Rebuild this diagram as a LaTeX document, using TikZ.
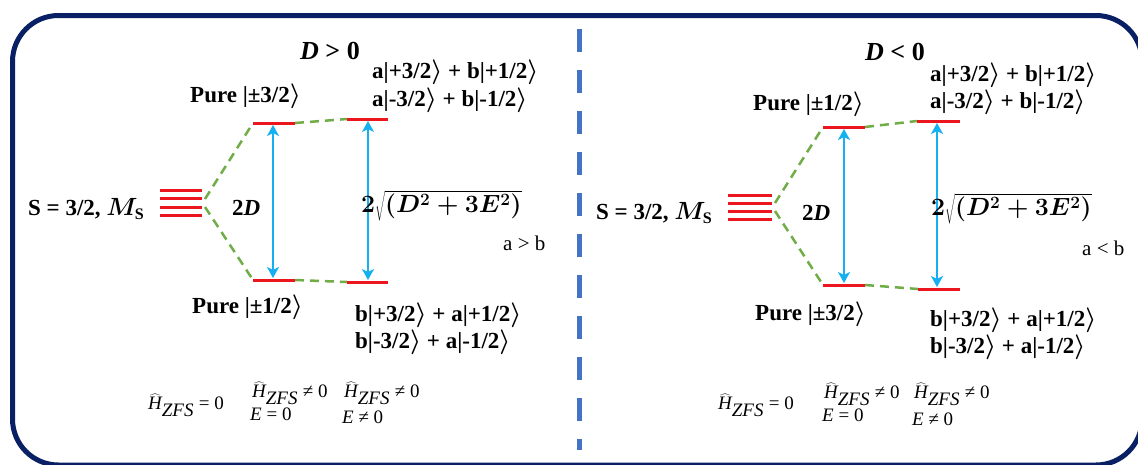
\documentclass[tikz,border=0pt]{standalone}
\usepackage{fontspec}
\setmainfont{Liberation Serif}
\usetikzlibrary{arrows.meta}
\definecolor{navy}{RGB}{10,32,100}
\definecolor{divblue}{RGB}{68,114,196}
\definecolor{lvlred}{RGB}{236,22,30}
\definecolor{dgreen}{RGB}{112,173,71}
\definecolor{tblue}{RGB}{20,176,240}
\newcommand{\HZ}{$\widehat{\textit{H}}_{\textit{ZFS}}$}
\begin{document}
\begin{tikzpicture}[x=1pt,y=-1pt,
  lvl/.style={draw=lvlred, line width=3pt},
  conn/.style={draw=dgreen, line width=2.5pt, dash pattern=on 9pt off 6pt},
  trans/.style={draw=tblue, line width=2.6pt, {Stealth[length=11pt,width=12pt,inset=3pt]}-{Stealth[length=11pt,width=12pt,inset=3pt]}},
  lab/.style={font=\fontsize{23}{26}\selectfont\bfseries\boldmath, inner sep=0pt},
  sqr/.style={font=\fontsize{24}{27}\selectfont\bfseries\boldmath, inner sep=0pt},
  title/.style={font=\fontsize{26}{29}\selectfont\bfseries, inner sep=0pt},
  plain/.style={font=\fontsize{21}{24}\selectfont, inner sep=0pt},
  hz/.style={font=\fontsize{19}{21}\selectfont, inner sep=0pt, anchor=west},
  divider/.style={draw=divblue, line width=5pt, dash pattern=on 23pt off 18pt}]
\useasboundingbox (0,0) rectangle (1138,464);
\fill[white] (0,0) rectangle (1138,464);
% frame
\draw[navy, line width=5pt, rounded corners=46pt] (12.5,15.5) rectangle (1142,465);
% divider
\coordinate (dtop) at (579,29);
\coordinate (dbot) at (579,450);
\draw[divider] (dtop) -- (dbot);

% ================= LEFT PANEL (D>0)
\node[title] (t1) at (330,51) {\textit{D} > 0};
% degenerate levels
\foreach \i/\y in {1/190,2/198.5,3/207,4/215.5}{
  \coordinate (da\i) at (160,\y);
  \coordinate (db\i) at (202,\y);
  \draw[lvl] (da\i) -- (db\i);
}
\coordinate (gu) at (205,199);
\coordinate (gl) at (205,207);
\coordinate (A1) at (253,123); \coordinate (A2) at (295,123);
\coordinate (B1) at (347,119); \coordinate (B2) at (388,119);
\coordinate (C1) at (253,280); \coordinate (C2) at (295,280);
\coordinate (E1) at (347,282); \coordinate (E2) at (388,282);
\draw[conn] (gu) -- (A1);
\draw[conn] (gl) -- (C1);
\draw[conn] (A2) -- (B1);
\draw[conn] (C2) -- (E1);
\draw[lvl] (A1) -- (A2);
\draw[lvl] (B1) -- (B2);
\draw[lvl] (C1) -- (C2);
\draw[lvl] (E1) -- (E2);
\coordinate (ar1t) at (273,125); \coordinate (ar1b) at (273,278);
\coordinate (ar2t) at (368,121); \coordinate (ar2b) at (368,280);
\draw[trans] (ar1t) -- (ar1b);
\draw[trans] (ar2t) -- (ar2b);

\node[lab, anchor=west] (pa) at (190,96) {Pure |±3/2$\rangle$};
\node[lab, anchor=west] (ma1) at (372,72) {a|+3/2$\rangle$ + b|+1/2$\rangle$};
\node[lab, anchor=west] (ma2) at (372,100) {a|-3/2$\rangle$ + b|-1/2$\rangle$};
\node[lab, anchor=west] (sa) at (28,209) {S = 3/2, $M_{\mathrm{S}}$};
\node[lab, anchor=west] (dd1) at (232,208) {2\textit{D}};
\node[sqr, anchor=west] (sq1) at (361,206) {$2\sqrt{(D^2+3E^2)}$};
\node[plain, anchor=west] (ab1) at (503,243) {a > b};
\node[lab, anchor=west] (pb) at (192,307) {Pure |±1/2$\rangle$};
\node[lab, anchor=west] (mb1) at (355,315) {b|+3/2$\rangle$ + a|+1/2$\rangle$};
\node[lab, anchor=west] (mb2) at (355,342) {b|-3/2$\rangle$ + a|-1/2$\rangle$};
\node[hz] (h1) at (148,405) {\HZ{} = 0};
\node[hz] (h2) at (252,393) {\HZ{} ≠ 0};
\node[hz] (h3) at (250,414) {\textit{E} = 0};
\node[hz] (h4) at (344,393) {\HZ{} ≠ 0};
\node[hz] (h5) at (342,417) {\textit{E} ≠ 0};

% ================= RIGHT PANEL (D<0)
\node[title] (t2) at (895,52) {\textit{D} < 0};
\foreach \i/\y in {1/195,2/203,3/211,4/219}{
  \coordinate (dc\i) at (728,\y);
  \coordinate (dd\i) at (772,\y);
  \draw[lvl] (dc\i) -- (dd\i);
}
\coordinate (hu) at (775,203);
\coordinate (hl) at (775,211);
\coordinate (F1) at (823,127); \coordinate (F2) at (865,127);
\coordinate (G1) at (917,121); \coordinate (G2) at (960,121);
\coordinate (H1) at (823,285); \coordinate (H2) at (865,285);
\coordinate (J1) at (918,289); \coordinate (J2) at (960,289);
\draw[conn] (hu) -- (F1);
\draw[conn] (hl) -- (H1);
\draw[conn] (F2) -- (G1);
\draw[conn] (H2) -- (J1);
\draw[lvl] (F1) -- (F2);
\draw[lvl] (G1) -- (G2);
\draw[lvl] (H1) -- (H2);
\draw[lvl] (J1) -- (J2);
\coordinate (ar3t) at (844,129); \coordinate (ar3b) at (844,283);
\coordinate (ar4t) at (937,123); \coordinate (ar4b) at (937,287);
\draw[trans] (ar3t) -- (ar3b);
\draw[trans] (ar4t) -- (ar4b);

\node[lab, anchor=west] (pc) at (753,104) {Pure |±1/2$\rangle$};
\node[lab, anchor=west] (mc1) at (930,75) {a|+3/2$\rangle$ + b|+1/2$\rangle$};
\node[lab, anchor=west] (mc2) at (930,102) {a|-3/2$\rangle$ + b|-1/2$\rangle$};
\node[lab, anchor=west] (sb) at (596,213) {S = 3/2, $M_{\mathrm{S}}$};
\node[lab, anchor=west] (dd2) at (802,213) {2\textit{D}};
\node[sqr, anchor=west] (sq2) at (931,209) {$2\sqrt{(D^2+3E^2)}$};
\node[plain, anchor=west] (ab2) at (1082,248) {a < b};
\node[lab, anchor=west] (pd) at (755,314) {Pure |±3/2$\rangle$};
\node[lab, anchor=west] (md1) at (930,320) {b|+3/2$\rangle$ + a|+1/2$\rangle$};
\node[lab, anchor=west] (md2) at (930,347) {b|-3/2$\rangle$ + a|-1/2$\rangle$};
\node[hz] (h6) at (718,405) {\HZ{} = 0};
\node[hz] (h7) at (824,394) {\HZ{} ≠ 0};
\node[hz] (h8) at (822,415) {\textit{E} = 0};
\node[hz] (h9) at (914,394) {\HZ{} ≠ 0};
\node[hz] (h10) at (912,419) {\textit{E} ≠ 0};
\end{tikzpicture}
\end{document}
